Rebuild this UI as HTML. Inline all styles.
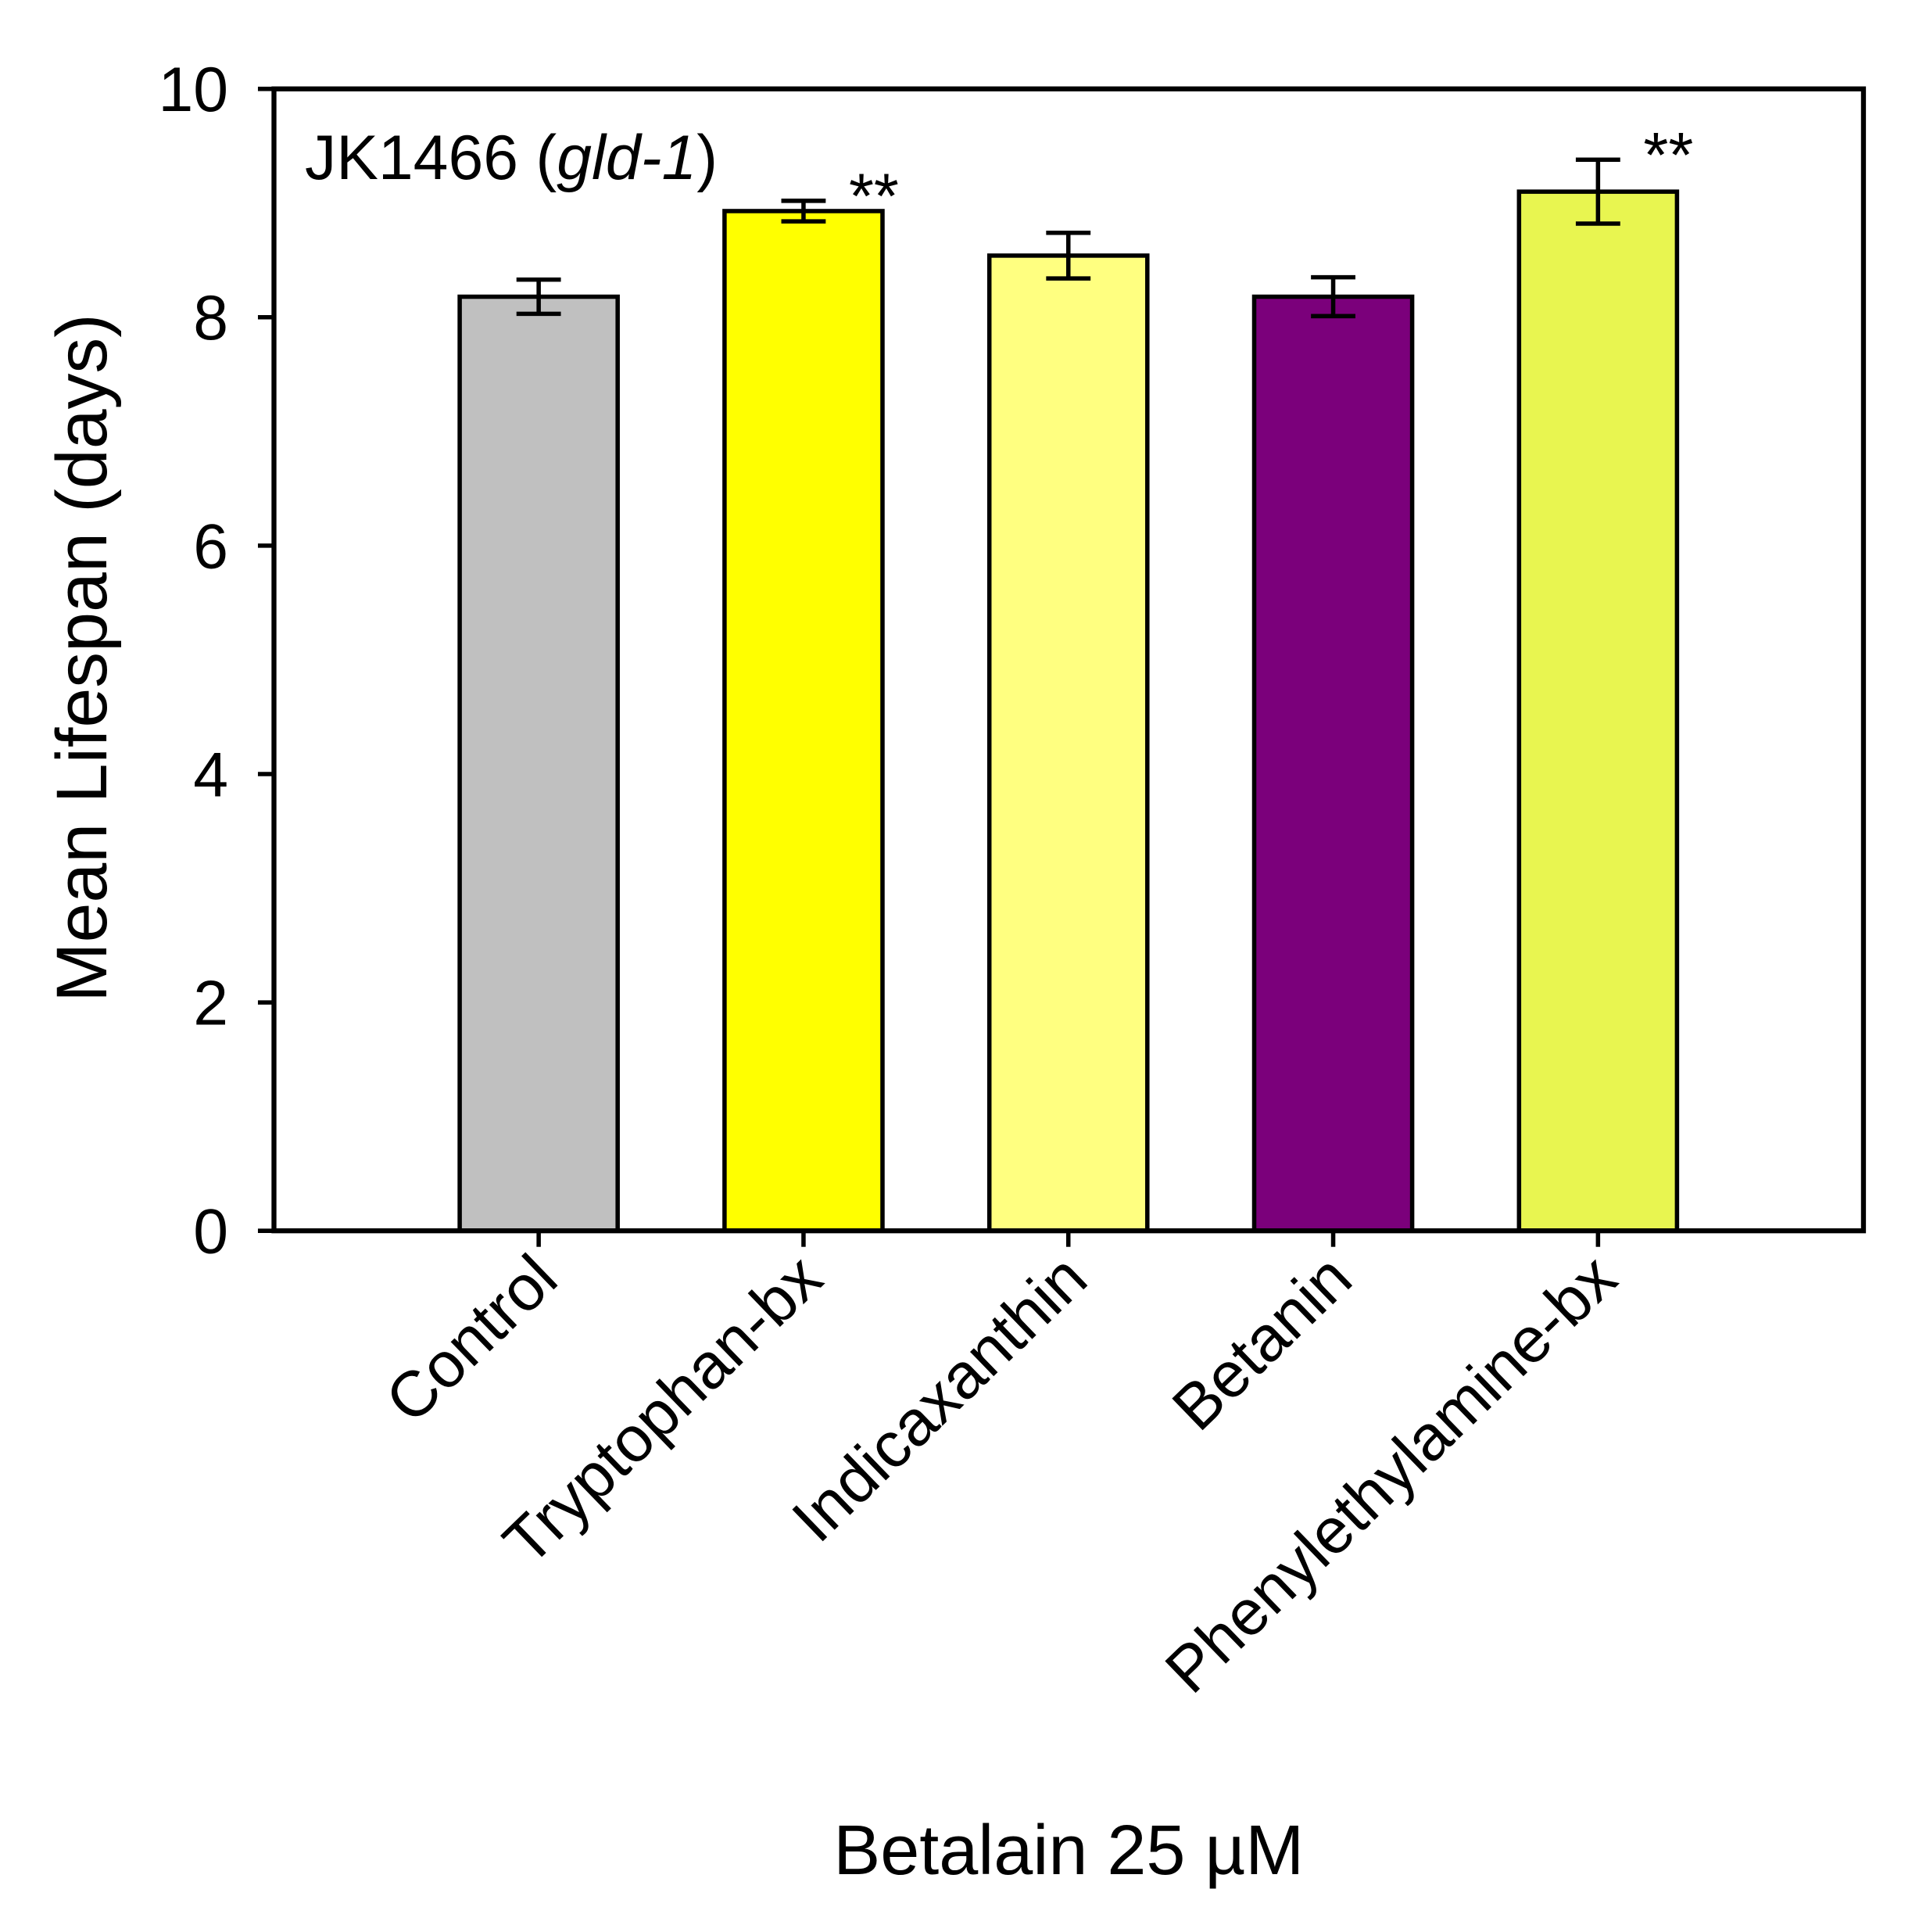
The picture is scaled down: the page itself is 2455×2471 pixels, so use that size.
<!DOCTYPE html>
<html><head><meta charset="utf-8"><style>html,body{margin:0;padding:0;background:#fff}svg{display:block}</style></head>
<body>
<svg id="chart" width="2455" height="2471" viewBox="0 0 1555 1565" preserveAspectRatio="none" xmlns="http://www.w3.org/2000/svg" font-family="'Liberation Sans', Arial, sans-serif">
<rect width="1555" height="1565" fill="#fff"/>
<g id="marks"></g>
<text x="247" y="145" font-size="51">JK1466 (<tspan font-style="italic">gld-1</tspan>)</text>
<text transform="translate(86,533) rotate(-90)" text-anchor="middle" font-size="58">Mean Lifespan (days)</text>
<text x="866" y="1518" text-anchor="middle" font-size="57">Betalain 25 µM</text>
</svg>
<script>
const categories = ["Control","Tryptophan-bx","Indicaxanthin","Betanin","Phenylethylamine-bx"];
const values = [8.18, 8.93, 8.54, 8.18, 9.10];
const errors = [0.15, 0.09, 0.20, 0.17, 0.28];
const colors = ["#c0c0c0","#ffff00","#ffff80","#7b007b","#e8f550"];
const signif = ["", "**", "", "", "**"];
const yTicks = [0,2,4,6,8,10];

const L=222,R=1510,T=72,B=997;
const y = v => B - (v/10)*(B-T);
const x = i => 436.5 + i*214.6;
const bw = 128;
const NS="http://www.w3.org/2000/svg";
const g=document.getElementById('marks');
function mk(tag,attrs){const e=document.createElementNS(NS,tag);for(const k in attrs)e.setAttribute(k,attrs[k]);g.appendChild(e);return e;}

categories.forEach((c,i)=>{
  const cx=x(i), top=y(values[i]);
  const r=mk('rect',{x:cx-bw/2,y:top,width:bw,height:B-top,fill:colors[i],stroke:'#000','stroke-width':3.5});
  
  
  const e1=y(values[i]+errors[i]), e2=y(values[i]-errors[i]);
  const eb=mk('path',{d:`M${cx},${e1}V${e2}M${cx-18},${e1}H${cx+18}M${cx-18},${e2}H${cx+18}`,stroke:'#000','stroke-width':3.5,fill:'none'});
  
  
  if(signif[i]){
    const s=mk('text',{x:cx+57,y:e1+14,'text-anchor':'middle','font-size':52});
    s.textContent=signif[i];
    
    
  }
  const tk=mk('line',{x1:cx,x2:cx,y1:B,y2:B+13,stroke:'#000','stroke-width':3.5});
  
  
  const lb=mk('text',{transform:`translate(${cx+18},${B+42}) rotate(-44)`,'text-anchor':'end','font-size':52});
  lb.textContent=c;
  
  
});
yTicks.forEach(t=>{
  const ty=y(t);
  const tk=mk('line',{x1:L-13,x2:L,y1:ty,y2:ty,stroke:'#000','stroke-width':3.5});
  
  
  const lb=mk('text',{x:L-37,y:ty+18,'text-anchor':'end','font-size':51});
  lb.textContent=t;
  
  
});
const fr=mk('rect',{x:L,y:T,width:R-L,height:B-T,fill:'none',stroke:'#000','stroke-width':4});


</script>
</body></html>
